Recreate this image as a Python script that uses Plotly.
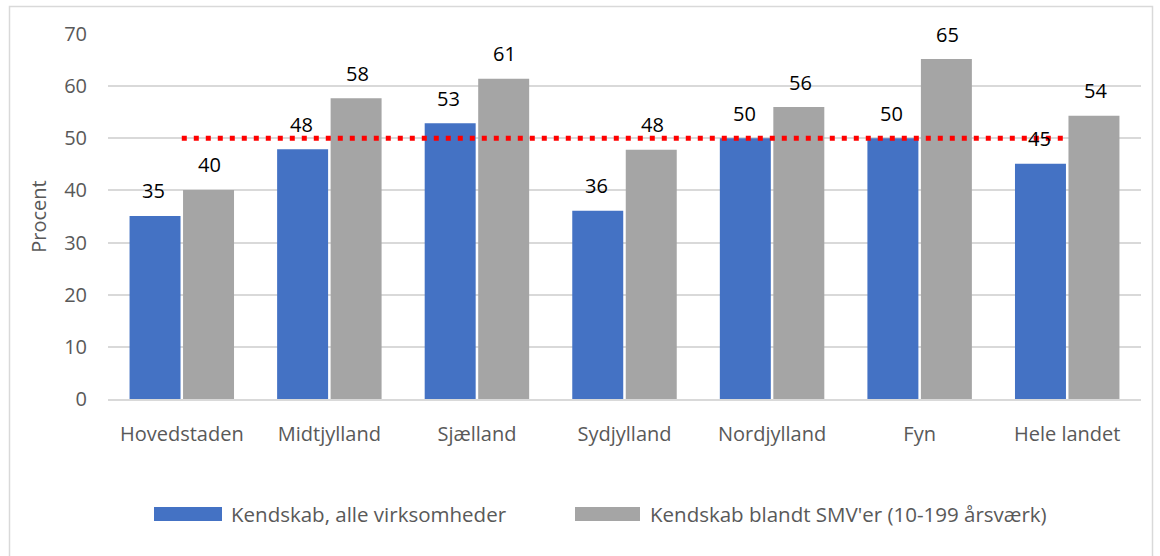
import plotly.graph_objects as go

# Data
regions = ["Hovedstaden", "Midtjylland", "Sjælland", "Sydjylland", "Nordjylland", "Fyn", "Hele landet"]
kendskab_alle = [35.1, 47.9, 52.9, 36.1, 50.0, 50.0, 45.1]
kendskab_smv = [40.1, 57.7, 61.4, 47.8, 56.0, 65.2, 54.3]
maal = [50] * len(regions)
series_names = ["Kendskab, alle virksomheder", "Kendskab blandt SMV'er (10-199 årsværk)"]
colors = ["#4472C4", "#A5A5A5"]

font_name = "Open Sans"
grey_txt = "#595959"
fs = 20

fig = go.Figure()
for name, vals, col in zip(series_names, [kendskab_alle, kendskab_smv], colors):
    fig.add_trace(go.Bar(x=regions, y=vals, name=name, marker_color=col,
                         marker_line_width=0, showlegend=False))

fig.add_trace(go.Scatter(x=regions, y=maal, mode="lines", showlegend=False,
                         line=dict(color="#FF0000", width=5, dash="5px,7px")))

# value labels above bars
annotations = []
for vals, shift in [(kendskab_alle, -28), (kendskab_smv, 28)]:
    for r, v in zip(regions, vals):
        annotations.append(dict(x=r, y=v, text=f"{v:.0f}", showarrow=False,
                                xshift=shift, yshift=25,
                                font=dict(family=font_name, size=fs, color="#000000")))

# manual legend (wide swatches like the original)
shapes = []
W, H = 1033, 365  # plot area in px
def px_x(p):
    return (p - 108) / W
def px_y(p):
    return (399 - p) / H

leg = [(154, 222, 229), (575, 640, 648)]
for (x0, x1, tx), name, col in zip(leg, series_names, colors):
    shapes.append(dict(type="rect", xref="paper", yref="paper",
                       x0=px_x(x0), x1=px_x(x1), y0=px_y(521), y1=px_y(507),
                       fillcolor=col, line_width=0))
    annotations.append(dict(xref="paper", yref="paper", x=px_x(tx), y=px_y(514),
                            xanchor="left", yanchor="middle", text=name, showarrow=False,
                            font=dict(family=font_name, size=20.5, color=grey_txt)))

# chart border
shapes.append(dict(type="rect", xref="paper", yref="paper",
                   x0=px_x(9.5), x1=px_x(1152.5), y0=px_y(600), y1=px_y(6.5),
                   line=dict(color="#D9D9D9", width=1.5), fillcolor="rgba(0,0,0,0)",
                   layer="below"))

fig.update_layout(
    width=1160, height=556,
    margin=dict(l=108, r=19, t=34, b=157),
    plot_bgcolor="white", paper_bgcolor="white",
    barmode="group", bargap=0.275, bargroupgap=0.047,
    font=dict(family=font_name, size=fs, color=grey_txt),
    annotations=annotations, shapes=shapes,
    xaxis=dict(showgrid=False, showline=True, linecolor="#D9D9D9", linewidth=1.5,
               ticks="", ticklabelstandoff=16, tickfont=dict(size=fs, color=grey_txt)),
    yaxis=dict(range=[0, 70], dtick=10, showgrid=True, gridcolor="#D9D9D9", gridwidth=1.5,
               zeroline=False, ticks="", ticklabelstandoff=20,
               tickfont=dict(size=fs, color=grey_txt),
               title=dict(text="Procent", standoff=12, font=dict(size=fs, color=grey_txt))),
)

fig.write_html("out.html", config={"displayModeBar": False},
               post_script="document.body.style.margin='0';")
